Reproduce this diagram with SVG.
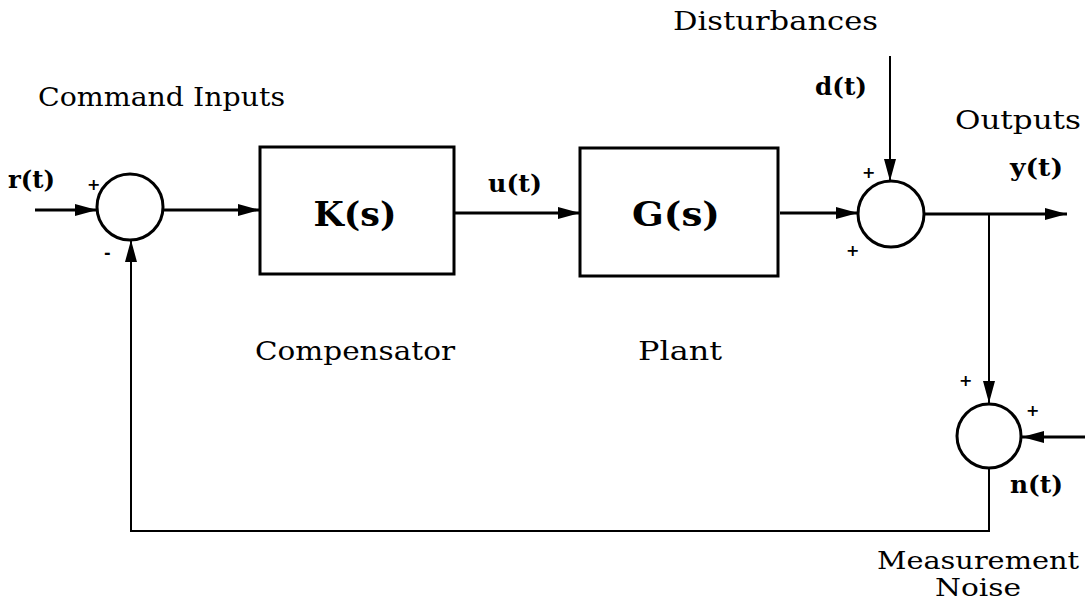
<svg xmlns="http://www.w3.org/2000/svg" width="1087" height="604" viewBox="0 0 1087 604">
<style>
.ln{stroke:#000;stroke-width:3;fill:none}
.thin{stroke:#000;stroke-width:2;fill:none}
.blk{stroke:#000;stroke-width:3;fill:#fff}
.lbl{font-family:"DejaVu Serif","Liberation Serif",serif;font-size:26px;fill:#000}
.sm{font-size:25px}
.sig{font-family:"DejaVu Serif","Liberation Serif",serif;font-size:25px;font-weight:bold;fill:#000}
.tf{font-family:"DejaVu Serif","Liberation Serif",serif;font-size:34px;font-weight:bold;fill:#000}
.pm{font-family:"DejaVu Sans","Liberation Sans",sans-serif;font-size:16px;font-weight:bold;fill:#000}
</style>
<defs>
<marker id="ah" markerUnits="userSpaceOnUse" markerWidth="24" markerHeight="14" refX="22" refY="7" orient="auto">
<path d="M0,1 L22,7 L0,13 Z" fill="#000"/>
</marker>
</defs>
<rect width="1087" height="604" fill="#fff"/>
<g id="connectors">
<line class="ln" x1="35" y1="210" x2="97" y2="210" marker-end="url(#ah)"/>
<line class="ln" x1="163" y1="210" x2="260" y2="210" marker-end="url(#ah)"/>
<line class="ln" x1="454" y1="213" x2="580" y2="213" marker-end="url(#ah)"/>
<line class="ln" x1="780" y1="213" x2="858" y2="213" marker-end="url(#ah)"/>
<line class="thin" x1="890" y1="56" x2="890" y2="181" marker-end="url(#ah)"/>
<line class="ln" x1="924" y1="214" x2="1067" y2="214" marker-end="url(#ah)"/>
<line class="thin" x1="989" y1="214" x2="989" y2="403" marker-end="url(#ah)"/>
<line class="ln" x1="1085" y1="437" x2="1022" y2="437" marker-end="url(#ah)"/>
<polyline class="thin" points="989,468 989,531 131,531 131,240" marker-end="url(#ah)"/>
</g>
<g id="sum1">
<circle class="blk" cx="130" cy="207" r="33"/>
<text class="pm" x="87" y="190">+</text>
<text class="pm" x="104" y="258">-</text>
</g>
<g id="K">
<rect class="blk" x="260" y="147" width="194" height="127"/>
<text class="tf" x="355" y="226" text-anchor="middle" textLength="83" lengthAdjust="spacingAndGlyphs">K(s)</text>
</g>
<g id="G">
<rect class="blk" x="580" y="148" width="198" height="128"/>
<text class="tf" x="676" y="226" text-anchor="middle" textLength="88" lengthAdjust="spacingAndGlyphs">G(s)</text>
</g>
<g id="sum2">
<circle class="blk" cx="891" cy="214" r="33"/>
<text class="pm" x="862" y="178">+</text>
<text class="pm" x="846" y="256">+</text>
</g>
<g id="sum3">
<circle class="blk" cx="989" cy="436" r="32"/>
<text class="pm" x="959" y="386">+</text>
<text class="pm" x="1026" y="416">+</text>
</g>
<g id="labels">
<text class="lbl" x="38" y="106" textLength="247" lengthAdjust="spacingAndGlyphs">Command Inputs</text>
<text class="lbl" x="673" y="30" textLength="205" lengthAdjust="spacingAndGlyphs">Disturbances</text>
<text class="lbl" x="955" y="129" textLength="126" lengthAdjust="spacingAndGlyphs">Outputs</text>
<text class="lbl" x="255" y="360" textLength="200" lengthAdjust="spacingAndGlyphs">Compensator</text>
<text class="lbl" x="638" y="360" textLength="84" lengthAdjust="spacingAndGlyphs">Plant</text>
<text class="lbl sm" x="877" y="569" textLength="202" lengthAdjust="spacingAndGlyphs">Measurement</text>
<text class="lbl sm" x="978" y="596" text-anchor="middle" textLength="86" lengthAdjust="spacingAndGlyphs">Noise</text>
<text class="sig" x="8" y="188" textLength="47" lengthAdjust="spacingAndGlyphs">r(t)</text>
<text class="sig" x="488" y="192" textLength="54" lengthAdjust="spacingAndGlyphs">u(t)</text>
<text class="sig" x="815" y="95" textLength="52" lengthAdjust="spacingAndGlyphs">d(t)</text>
<text class="sig" x="1010" y="176" textLength="53" lengthAdjust="spacingAndGlyphs">y(t)</text>
<text class="sig" x="1010" y="493" textLength="53" lengthAdjust="spacingAndGlyphs">n(t)</text>
</g>
</svg>
